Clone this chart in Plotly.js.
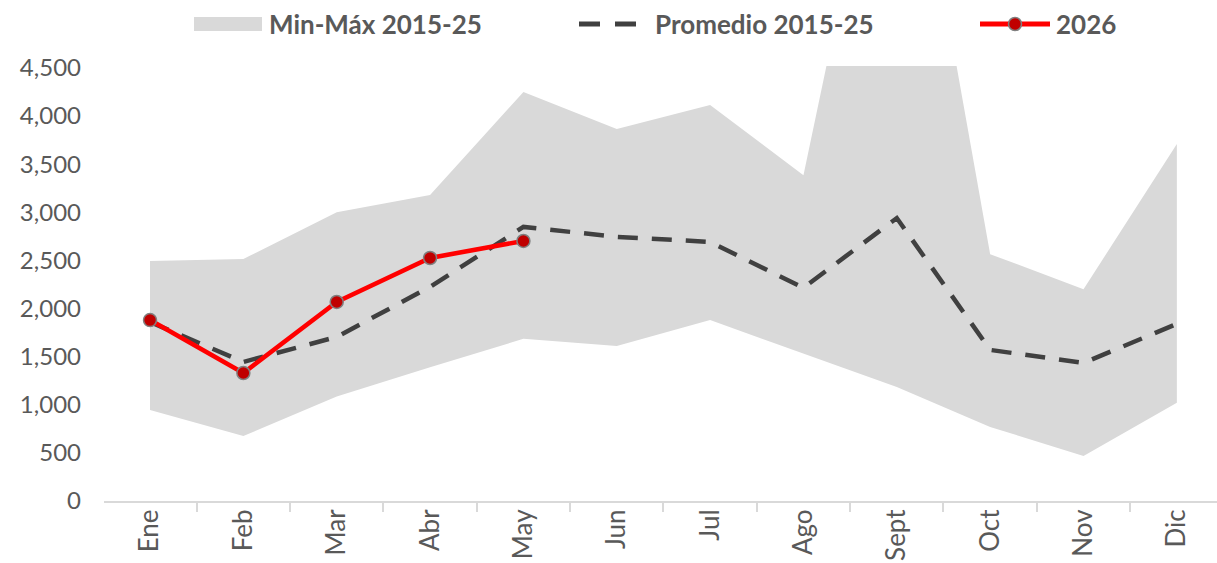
<!DOCTYPE html>
<html>
<head>
<meta charset="utf-8">
<script src="https://cdn.plot.ly/plotly-3.0.1.min.js"></script>
<style>html,body{margin:0;padding:0;background:#fff;}#chart{width:1217px;height:563px;}</style>
</head>
<body>
<div id="chart"></div>
<script>
const months = ["Ene","Feb","Mar","Abr","May","Jun","Jul","Ago","Sept","Oct","Nov","Dic"];
const minVals = [945, 675, 1085, 1390, 1685, 1610, 1880, 1530, 1185, 770, 468, 1020];
const maxVals = [2495, 2515, 3000, 3180, 4250, 3865, 4115, 3385, 8000, 2565, 2200, 3710];
const avgVals = [1860, 1445, 1705, 2225, 2848, 2745, 2692, 2215, 2940, 1570, 1435, 1840];
const y2026 = [1880, 1330, 2068, 2525, 2702];
const months2026 = months.slice(0, 5);
const yTicks = [0, 500, 1000, 1500, 2000, 2500, 3000, 3500, 4000, 4500];

const FONT = "Lato, 'Open Sans', sans-serif";
const GREY = "#595959";

const traces = [
  {x: months, y: minVals, type: "scatter", mode: "lines", line: {width: 0, color: "#d9d9d9"}, showlegend: false, hoverinfo: "skip"},
  {x: months, y: maxVals, type: "scatter", mode: "lines", line: {width: 0, color: "#d9d9d9"}, fill: "tonexty", fillcolor: "#d9d9d9", name: "Min-Máx 2015-25", showlegend: false, hoverinfo: "skip"},
  {x: months, y: avgVals, type: "scatter", mode: "lines", line: {color: "#404040", width: 4.5, dash: "20px,14px"}, name: "Promedio 2015-25", showlegend: false},
  {x: months2026, y: y2026, type: "scatter", mode: "lines+markers", line: {color: "#ff0000", width: 4.5}, marker: {size: 13, color: "#c00000", line: {color: "#808080", width: 1.5}}, name: "2026", showlegend: false}
];

// legend built in paper coordinates
const L = 104, W = 1113, B = 501, H = 435;
const px = v => (v - L) / W;
const py = v => (B - v) / H;
const legY = py(24);

const shapes = [
  {type: "rect", xref: "paper", yref: "paper", x0: px(194), x1: px(262), y0: py(31), y1: py(17), fillcolor: "#d9d9d9", line: {width: 0}},
  {type: "line", xref: "paper", yref: "paper", x0: px(579), x1: px(637), y0: legY, y1: legY, line: {color: "#404040", width: 5, dash: "21px,15px"}},
  {type: "line", xref: "paper", yref: "paper", x0: px(980), x1: px(1050), y0: legY, y1: legY, line: {color: "#ff0000", width: 5}},
  {type: "circle", xref: "paper", yref: "paper", xsizemode: "pixel", ysizemode: "pixel", xanchor: px(1015), yanchor: legY, x0: -6.5, x1: 6.5, y0: -6.5, y1: 6.5, fillcolor: "#c00000", line: {color: "#808080", width: 1.5}}
];

const legFont = {family: FONT, size: 26, color: GREY, weight: 700};
const annotations = [
  {xref: "paper", yref: "paper", x: px(267), y: legY, xanchor: "left", yanchor: "middle", text: "<b>Min-Máx 2015-25</b>", showarrow: false, font: legFont},
  {xref: "paper", yref: "paper", x: px(653), y: legY, xanchor: "left", yanchor: "middle", text: "<b>Promedio 2015-25</b>", showarrow: false, font: legFont},
  {xref: "paper", yref: "paper", x: px(1054), y: legY, xanchor: "left", yanchor: "middle", text: "<b>2026</b>", showarrow: false, font: legFont}
];

const layout = {
  width: 1217, height: 563,
  margin: {l: 104, r: 0, t: 66, b: 62, pad: 0},
  paper_bgcolor: "#ffffff", plot_bgcolor: "#ffffff",
  font: {family: FONT, color: GREY, size: 24},
  showlegend: false,
  xaxis: {
    type: "category", categoryorder: "array", categoryarray: months,
    range: [-0.493, 11.43],
    showgrid: false, zeroline: false,
    showline: true, linecolor: "#d9d9d9", linewidth: 2,
    ticks: "outside", tickson: "boundaries", ticklen: 9, tickcolor: "#d9d9d9", tickwidth: 2,
    tickangle: -90, ticklabelstandoff: -4, tickfont: {family: FONT, size: 26, color: GREY},
    automargin: false
  },
  yaxis: {
    range: [0, 4520],
    tickvals: yTicks, ticktext: yTicks.map(v => v.toLocaleString("en-US")),
    showgrid: false, zeroline: false, showline: false,
    ticks: "", ticklabelstandoff: 22,
    tickfont: {family: FONT, size: 24, color: GREY},
    automargin: false
  },
  shapes: shapes,
  annotations: annotations
};

Plotly.newPlot("chart", traces, layout, {displayModeBar: false, staticPlot: true});
</script>
</body>
</html>
